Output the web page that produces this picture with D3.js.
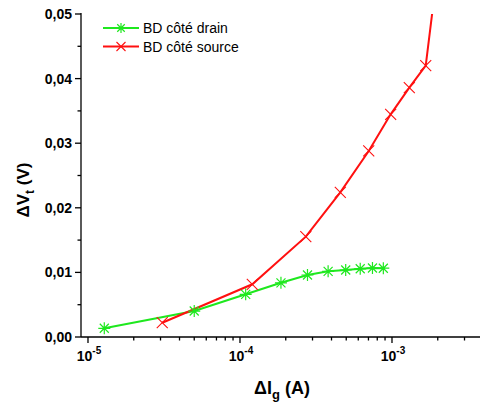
<!DOCTYPE html>
<html><head><meta charset="utf-8">
<script src="https://cdn.jsdelivr.net/npm/d3@7"></script>
<style>body{margin:0;background:#fff}svg{display:block}text{font-family:"Liberation Sans",Arial,sans-serif}</style>
</head><body>
<svg id="c" width="480" height="407"></svg>
<script>
const drainX = [1.28e-5, 5.0e-5, 1.09e-4, 1.86e-4, 2.78e-4, 3.80e-4, 4.96e-4, 6.18e-4, 7.44e-4, 8.77e-4];
const drainY = [0.00135, 0.00402, 0.00661, 0.00839, 0.0096, 0.01017, 0.01037, 0.01056, 0.01068, 0.01065];
const sourceX = [3.08e-5, 1.205e-4, 2.71e-4, 4.57e-4, 7.03e-4, 9.8e-4, 1.30e-3, 1.667e-3, 1.95e-3];
const sourceY = [0.00221, 0.00816, 0.01553, 0.0224, 0.0288, 0.03447, 0.0386, 0.0420, 0.055];
const yTicks = [0, 0.01, 0.02, 0.03, 0.04, 0.05];
const yTickLabels = ["0,00", "0,01", "0,02", "0,03", "0,04", "0,05"];
const xTicks = [1e-5, 1e-4, 1e-3];
const xTickExp = ["-5", "-4", "-3"];
const seriesNames = ["BD côté drain", "BD côté source"];
const green = "#1ee81e", red = "#ff1010";

const svg = d3.select("#c");
const L = 81, R = 480, T = 14, B = 337;
const x = d3.scaleLog().domain([Math.pow(10, -5.046), Math.pow(10, -2.421)]).range([L, R]);
const y = d3.scaleLinear().domain([0, 0.05]).range([B, T]);

svg.append("defs").append("clipPath").attr("id", "clip")
  .append("rect").attr("x", L).attr("y", T).attr("width", R - L).attr("height", B - T);

// Y axis
const yMinor = d3.range(0, 0.0501, 0.005);
const yAx = svg.append("g").attr("stroke", "#000").attr("stroke-width", 1.3);
yAx.append("line").attr("x1", L).attr("x2", L).attr("y1", T - 1).attr("y2", B);
yAx.selectAll(".ym").data(yMinor).join("line")
  .attr("x1", L).attr("x2", (d, i) => L - (i % 2 === 0 ? 6 : 3.5))
  .attr("y1", d => y(d)).attr("y2", d => y(d));
svg.selectAll(".yl").data(yTicks).join("text")
  .attr("x", 72).attr("y", d => y(d)).attr("dy", "0.36em")
  .attr("text-anchor", "end").attr("font-weight", "bold").attr("font-size", 14)
  .text((d, i) => yTickLabels[i]);

// X axis
const xAx = svg.append("g").attr("stroke", "#000").attr("stroke-width", 1.3);
xAx.append("line").attr("x1", L).attr("x2", R).attr("y1", B).attr("y2", B);
const xMinor = [];
for (let e = -5; e <= -3; e++) for (let m = 2; m <= 9; m++) { const v = m * Math.pow(10, e); if (x(v) <= R) xMinor.push(v); }
xAx.selectAll(".xm").data(xMinor).join("line")
  .attr("x1", d => x(d)).attr("x2", d => x(d)).attr("y1", B).attr("y2", B + 3.5);
xAx.selectAll(".xM").data(xTicks).join("line")
  .attr("x1", d => x(d)).attr("x2", d => x(d)).attr("y1", B).attr("y2", B + 6);
const xl = svg.selectAll(".xl").data(xTicks).join("text")
  .attr("x", d => x(d) + 1).attr("y", 361)
  .attr("text-anchor", "middle").attr("font-weight", "bold").attr("font-size", 14);
xl.append("tspan").text("10");
xl.append("tspan").attr("dy", -7).attr("font-size", 10).text((d, i) => xTickExp[i]);

// Axis titles
const xt = svg.append("text").attr("x", 282).attr("y", 394).attr("text-anchor", "middle")
  .attr("font-weight", "bold").attr("font-size", 18);
xt.append("tspan").text("ΔI");
xt.append("tspan").attr("dy", 5).attr("font-size", 13).text("g");
xt.append("tspan").attr("dy", -5).text(" (A)");

const yt = svg.append("text").attr("transform", "translate(29,190) rotate(-90)").attr("text-anchor", "middle")
  .attr("font-weight", "bold").attr("font-size", 17);
yt.append("tspan").text("ΔV");
yt.append("tspan").attr("dy", 5).attr("font-size", 12).text("t");
yt.append("tspan").attr("dy", -5).text(" (V)");

// Data
const drain = drainX.map((v, i) => [v, drainY[i]]);
const source = sourceX.map((v, i) => [v, sourceY[i]]);
const line = d3.line().x(d => x(d[0])).y(d => y(d[1]));
const plot = svg.append("g").attr("clip-path", "url(#clip)");

function star(g, cx, cy, s, col) {
  const h = s / 2, dd = h * 0.75;
  const p = `M${cx - h},${cy}L${cx + h},${cy}M${cx},${cy - h}L${cx},${cy + h}M${cx - dd},${cy - dd}L${cx + dd},${cy + dd}M${cx - dd},${cy + dd}L${cx + dd},${cy - dd}`;
  g.append("path").attr("d", p).attr("stroke", col).attr("stroke-width", 1.2).attr("fill", "none");
}
function cross(g, cx, cy, s, col) {
  const h = s / 2;
  g.append("path").attr("d", `M${cx - h},${cy - h}L${cx + h},${cy + h}M${cx - h},${cy + h}L${cx + h},${cy - h}`)
    .attr("stroke", col).attr("stroke-width", 1.1).attr("fill", "none");
}

plot.append("path").datum(drain).attr("d", line).attr("fill", "none").attr("stroke", green).attr("stroke-width", 2);
plot.append("path").datum(source).attr("d", line).attr("fill", "none").attr("stroke", red).attr("stroke-width", 2);
drain.forEach(d => star(plot, x(d[0]), y(d[1]), 12, green));
source.forEach(d => cross(plot, x(d[0]), y(d[1]), 11, red));

// Legend
const lg = svg.append("g");
[[green, star], [red, cross]].forEach((c, i) => {
  const yy = 28 + i * 18.5;
  lg.append("line").attr("x1", 103).attr("x2", 139).attr("y1", yy).attr("y2", yy).attr("stroke", c[0]).attr("stroke-width", 2);
  c[1](lg, 121, yy, i === 0 ? 10 : 9, c[0]);
  lg.append("text").attr("x", 143).attr("y", yy).attr("dy", "0.36em").attr("font-size", 14).text(seriesNames[i]);
});
</script>
</body></html>
